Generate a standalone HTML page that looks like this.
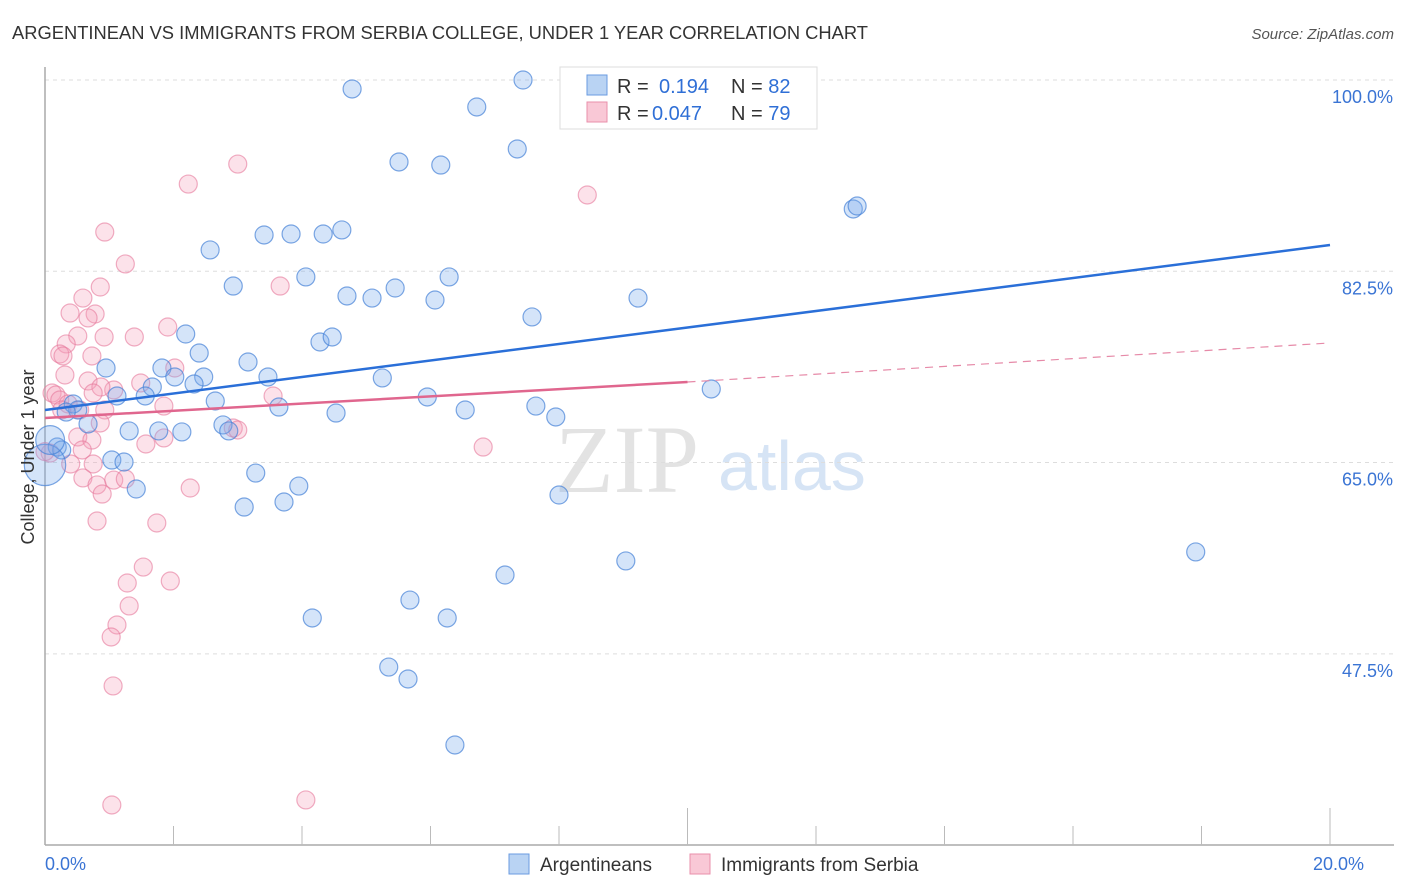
<!DOCTYPE html>
<html><head><meta charset="utf-8"><style>
body{margin:0;background:#fff;font-family:"Liberation Sans",sans-serif;}
svg{display:block}
</style></head><body>
<svg id="chart" width="1406" height="892">
<text x="12" y="39" font-size="18" fill="#333" textLength="856" lengthAdjust="spacingAndGlyphs">ARGENTINEAN VS IMMIGRANTS FROM SERBIA COLLEGE, UNDER 1 YEAR CORRELATION CHART</text>
<text x="1394" y="39" font-size="15" fill="#555" font-style="italic" text-anchor="end">Source: ZipAtlas.com</text>
<g>
<text x="555" y="492" font-size="96" font-family="Liberation Serif,serif" fill="#e3e3e3">ZIP</text>
<text x="718" y="490" font-size="70" fill="#d6e4f5">atlas</text>
</g>
<g id="grid"></g>
<g id="axes"></g>
<g id="pts"></g>
<g id="lines"></g>
<text transform="translate(34,457) rotate(-90)" font-size="18" fill="#333" text-anchor="middle">College, Under 1 year</text>
<g>
<rect x="560" y="67" width="257" height="62" fill="#fff" stroke="#ddd"/>
<rect x="587" y="75" width="20" height="20" fill="#b9d3f3" stroke="#6a9be0"/>
<rect x="587" y="102" width="20" height="20" fill="#f9c8d6" stroke="#e98fab"/>
<text x="617" y="93" font-size="20" fill="#333">R = <tspan x="659" fill="#2f6fd6">0.194</tspan><tspan x="731">N = </tspan><tspan fill="#2f6fd6">82</tspan></text>
<text x="617" y="120" font-size="20" fill="#333">R = <tspan x="652" fill="#2f6fd6">0.047</tspan><tspan x="731">N = </tspan><tspan fill="#2f6fd6">79</tspan></text>
</g>
<g>
<rect x="509" y="854" width="20" height="20" fill="#b9d3f3" stroke="#6a9be0"/>
<text x="540" y="871" font-size="19" fill="#333">Argentineans</text>
<rect x="690" y="854" width="20" height="20" fill="#f9c8d6" stroke="#e98fab"/>
<text x="721" y="871" font-size="19" fill="#333">Immigrants from Serbia</text>
</g>
</svg>
<script>
const yTicks=[100,82.5,65,47.5];
const xTickLabels=["0.0%","20.0%"];
const blueX=[4.78,7.44,6.72,7.35,5.51,6.16,12.58,12.64,2.57,3.41,3.83,4.33,4.62,2.93,4.06,4.70,5.09,5.45,6.07,6.29,7.58,9.23,2.19,4.28,4.47,2.40,0.95,1.82,3.16,2.02,2.47,3.47,5.25,1.67,2.32,10.37,1.56,1.12,2.65,3.64,4.53,5.95,6.54,7.64,7.95,0.44,0.51,0.33,0.67,1.31,1.77,2.13,2.77,2.86,0.19,0.26,1.04,1.23,3.28,3.95,1.42,3.10,3.72,8.0,17.91,9.04,7.16,5.68,4.16,6.26,5.35,5.65,6.38,8.95,9.49,8.19,0.0,0.08];
const blueY=[99.18,100,97.53,93.69,92.5,92.22,88.2,88.47,84.45,85.82,85.91,85.91,86.28,81.15,81.98,80.24,80.05,80.97,79.87,81.98,78.32,80.05,76.76,76.03,76.49,75.02,73.65,73.65,74.2,72.83,72.83,72.83,72.74,71.91,72.19,71.73,71.09,71.09,70.63,70.08,69.53,71.0,69.81,70.17,69.17,70.36,69.81,69.62,68.53,67.89,67.89,67.8,68.44,67.89,66.42,66.15,65.23,65.05,64.04,62.85,62.58,60.93,61.39,62.03,56.82,56.0,54.71,52.42,50.78,50.78,46.29,45.2,39.16,100,100,96.98,64.78,67.06];
const blueSize=[1,1,1,1,1,1,1,1,1,1,1,1,1,1,1,1,1,1,1,1,1,1,1,1,1,1,1,1,1,1,1,1,1,1,1,1,1,1,1,1,1,1,1,1,1,1,1,1,1,1,1,1,1,1,1,1,1,1,1,1,1,1,1,1,1,1,1,1,1,1,1,1,1,1,1,1,2.3,1.6];
const pinkX=[3.0,2.23,8.44,0.93,1.25,3.66,0.86,0.59,0.39,0.78,0.67,1.91,0.51,0.92,1.39,0.33,0.23,0.28,0.73,2.02,0.31,0.67,1.49,1.07,0.11,0.17,0.23,0.87,0.75,3.55,0.36,0.26,0.93,0.54,1.85,0.86,2.93,3.0,1.57,1.85,6.82,0.51,0.73,0.58,0.08,0.40,0.75,0.59,0.81,1.07,1.25,0.89,2.26,0.81,1.74,1.53,1.95,1.28,1.31,1.12,1.03,1.06,1.04,4.06,0.0];
const pinkY=[92.31,90.48,89.48,86.09,83.17,81.15,81.06,80.05,78.68,78.59,78.23,77.4,76.58,76.49,76.49,75.85,74.93,74.75,74.75,73.65,73.01,72.46,72.28,71.64,71.36,71.18,70.72,71.91,71.36,71.09,70.36,69.81,69.81,69.81,70.17,68.62,68.16,67.98,66.7,67.25,66.42,67.34,67.06,66.15,65.87,64.87,64.87,63.59,62.95,63.4,63.5,62.12,62.67,59.65,59.47,55.44,54.16,53.98,51.88,50.14,49.04,44.56,33.67,34.13,66.0];
const blueTrend=[[0,69.81],[20,84.9]];
const pinkTrend=[[0,69.08],[10,72.37],[20,75.94]];
const NS="http://www.w3.org/2000/svg";
const sx=v=>45+v*64.25, sy=v=>80+(100-v)*10.93;
function mk(tag,attrs,parent){const e=document.createElementNS(NS,tag);for(const k in attrs)e.setAttribute(k,attrs[k]);parent.appendChild(e);return e;}
const grid=document.getElementById('grid'),axes=document.getElementById('axes');
yTicks.forEach(t=>{
 const l=mk('line',{x1:45,x2:1394,y1:sy(t),y2:sy(t),stroke:'#ddd','stroke-dasharray':'4,4'},grid);
 
 
 const tx=mk('text',{x:1393,y:sy(t)+23,'font-size':18,fill:'#3a74d4','text-anchor':'end'},grid);
 tx.textContent=t.toFixed(1)+'%';
 
 
});
const ax=mk('line',{x1:45,x2:1394,y1:845,y2:845,stroke:'#aaa','stroke-width':1.5},axes);


const ay=mk('line',{x1:45,x2:45,y1:67,y2:845,stroke:'#aaa','stroke-width':1.5},axes);


for(let i=1;i<=10;i++){const tall=(i==5||i==10);const t=mk('line',{x1:sx(i*2),x2:sx(i*2),y1:tall?808:826,y2:845,stroke:'#bbb'},axes);
 
 }
[[0,'start'],[20,'end']].forEach((p,i)=>{const t=mk('text',{x:sx(p[0])+(i?34:0),y:870,'font-size':18,fill:'#3a74d4','text-anchor':p[1]},axes);t.textContent=xTickLabels[i];
 
 });
const pts=document.getElementById('pts');
pinkX.forEach((x,i)=>{const c=mk('circle',{cx:sx(x),cy:sy(pinkY[i]),r:9,fill:'rgba(244,160,185,0.3)',stroke:'rgba(230,120,155,0.6)','stroke-width':1.2},pts);
 
 });
blueX.forEach((x,i)=>{const c=mk('circle',{cx:sx(x),cy:sy(blueY[i]),r:9*blueSize[i],fill:'rgba(120,170,235,0.32)',stroke:'rgba(70,130,215,0.7)','stroke-width':1.2},pts);
 
 });
const lines=document.getElementById('lines');
const bl=mk('line',{x1:sx(blueTrend[0][0]),y1:sy(blueTrend[0][1]),x2:sx(blueTrend[1][0]),y2:sy(blueTrend[1][1]),stroke:'#2a6fd8','stroke-width':2.5},lines);


const pl=mk('line',{x1:sx(pinkTrend[0][0]),y1:sy(pinkTrend[0][1]),x2:sx(pinkTrend[1][0]),y2:sy(pinkTrend[1][1]),stroke:'#e0668e','stroke-width':2.5},lines);


const pd=mk('line',{x1:sx(pinkTrend[1][0]),y1:sy(pinkTrend[1][1]),x2:sx(pinkTrend[2][0]),y2:sy(pinkTrend[2][1]),stroke:'#e68aa8','stroke-width':1.2,'stroke-dasharray':'8,6'},lines);


</script>
</body></html>
